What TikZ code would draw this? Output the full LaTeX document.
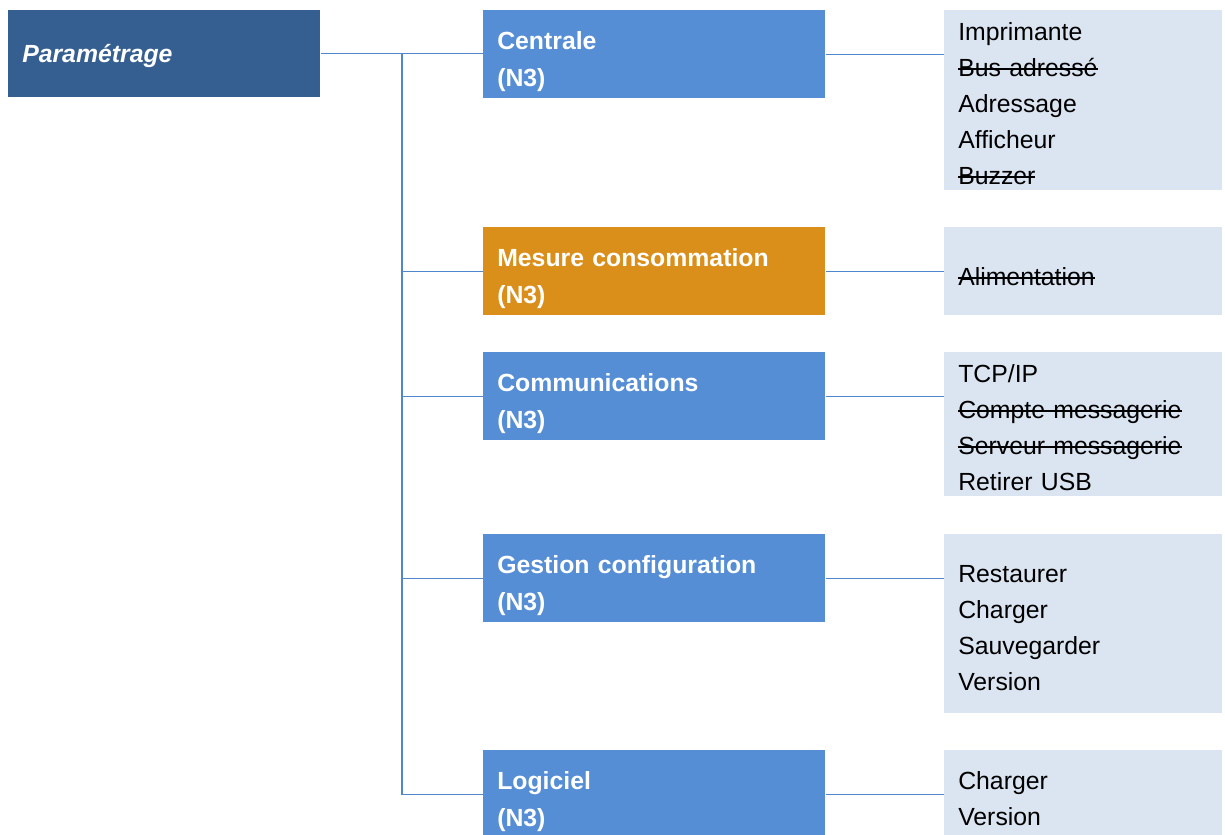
\documentclass[tikz,border=0pt]{standalone}
\usepackage{fontspec}
\setmainfont{Liberation Sans}
\definecolor{rootblue}{RGB}{53,95,145}
\definecolor{menublue}{RGB}{85,142,213}
\definecolor{menuorange}{RGB}{218,143,27}
\definecolor{leafback}{RGB}{219,229,241}
\definecolor{linkblue}{RGB}{79,135,207}
\tikzset{
  rootbox/.style={fill=rootblue, text=white, anchor=north west, inner xsep=10.5pt, inner ysep=0pt,
    text width=213pt, text height=39pt, text depth=26.25pt,
    font=\fontsize{18.6pt}{27.75pt}\selectfont\bfseries\itshape},
  menubox/.style={fill=menublue, text=white, anchor=north west, inner xsep=10.5pt, inner ysep=0pt,
    text width=235.5pt, text height=29.25pt, text depth=36.75pt,
    font=\fontsize{18.6pt}{27.75pt}\selectfont\bfseries},
  leafbox/.style={fill=leafback, text=black, anchor=north west, inner xsep=10.5pt, inner ysep=0pt,
    text width=187.5pt, font=\fontsize{18.6pt}{27pt}\selectfont},
  link/.style={draw=linkblue, line width=1.1pt}
}
\newcommand{\rows}[1]{\begin{tabular}[t]{@{}l@{}}#1\end{tabular}}
\newcommand{\striked}[1]{\setbox0=\hbox{#1}\rlap{\rule[0.27em]{\wd0}{0.06em}}\box0}
\begin{document}
\begin{tikzpicture}[x=0.75pt, y=-0.75pt]
\useasboundingbox (0,0) rectangle (1225,835);

% Root
\node[rootbox] (param) at (8,10) {Paramétrage};

% Menus (N3)
\node[menubox] (centrale) at (483,10) {\rows{Centrale\\(N3)}};
\node[menubox, fill=menuorange] (mesure) at (483,227) {\rows{Mesure consommation\\(N3)}};
\node[menubox] (comm) at (483,352) {\rows{Communications\\(N3)}};
\node[menubox] (gestion) at (483,534) {\rows{Gestion configuration\\(N3)}};
\node[menubox] (logiciel) at (483,750) {\rows{Logiciel\\(N3)}};

% Sub-menus
\node[leafbox, text height=22.5pt, text depth=112.5pt] (centraleitems) at (944,10)
  {\rows{Imprimante\\\striked{Bus adressé}\\Adressage\\Afficheur\\\striked{Buzzer}}};
\node[leafbox, text height=43.5pt, text depth=22.5pt] (mesureitems) at (944,227)
  {\rows{\striked{Alimentation}}};
\node[leafbox, text height=22.5pt, text depth=85.5pt] (commitems) at (944,352)
  {\rows{TCP/IP\\\striked{Compte messagerie}\\\striked{Serveur messagerie}\\Retirer USB}};
\node[leafbox, text height=36pt, text depth=98.25pt] (gestionitems) at (944,534)
  {\rows{Restaurer\\Charger\\Sauvegarder\\Version}};
\node[leafbox, text height=29.25pt, text depth=36.75pt] (logicielitems) at (944,750)
  {\rows{Charger\\Version}};

% Tree lines
\coordinate (trunk) at (402,53.5);
\draw[link] (param.east |- trunk) -- (centrale.west |- trunk);
\draw[link] (trunk) |- (mesure.west);
\draw[link] (trunk) |- (comm.west);
\draw[link] (trunk) |- (gestion.west);
\draw[link] (trunk) |- (logiciel.west);

\draw[link] (centrale.east) -- (centrale.east -| centraleitems.west);
\draw[link] (mesure.east) -- (mesure.east -| mesureitems.west);
\draw[link] (comm.east) -- (comm.east -| commitems.west);
\draw[link] (gestion.east) -- (gestion.east -| gestionitems.west);
\draw[link] (logiciel.east) -- (logiciel.east -| logicielitems.west);
\end{tikzpicture}
\end{document}
